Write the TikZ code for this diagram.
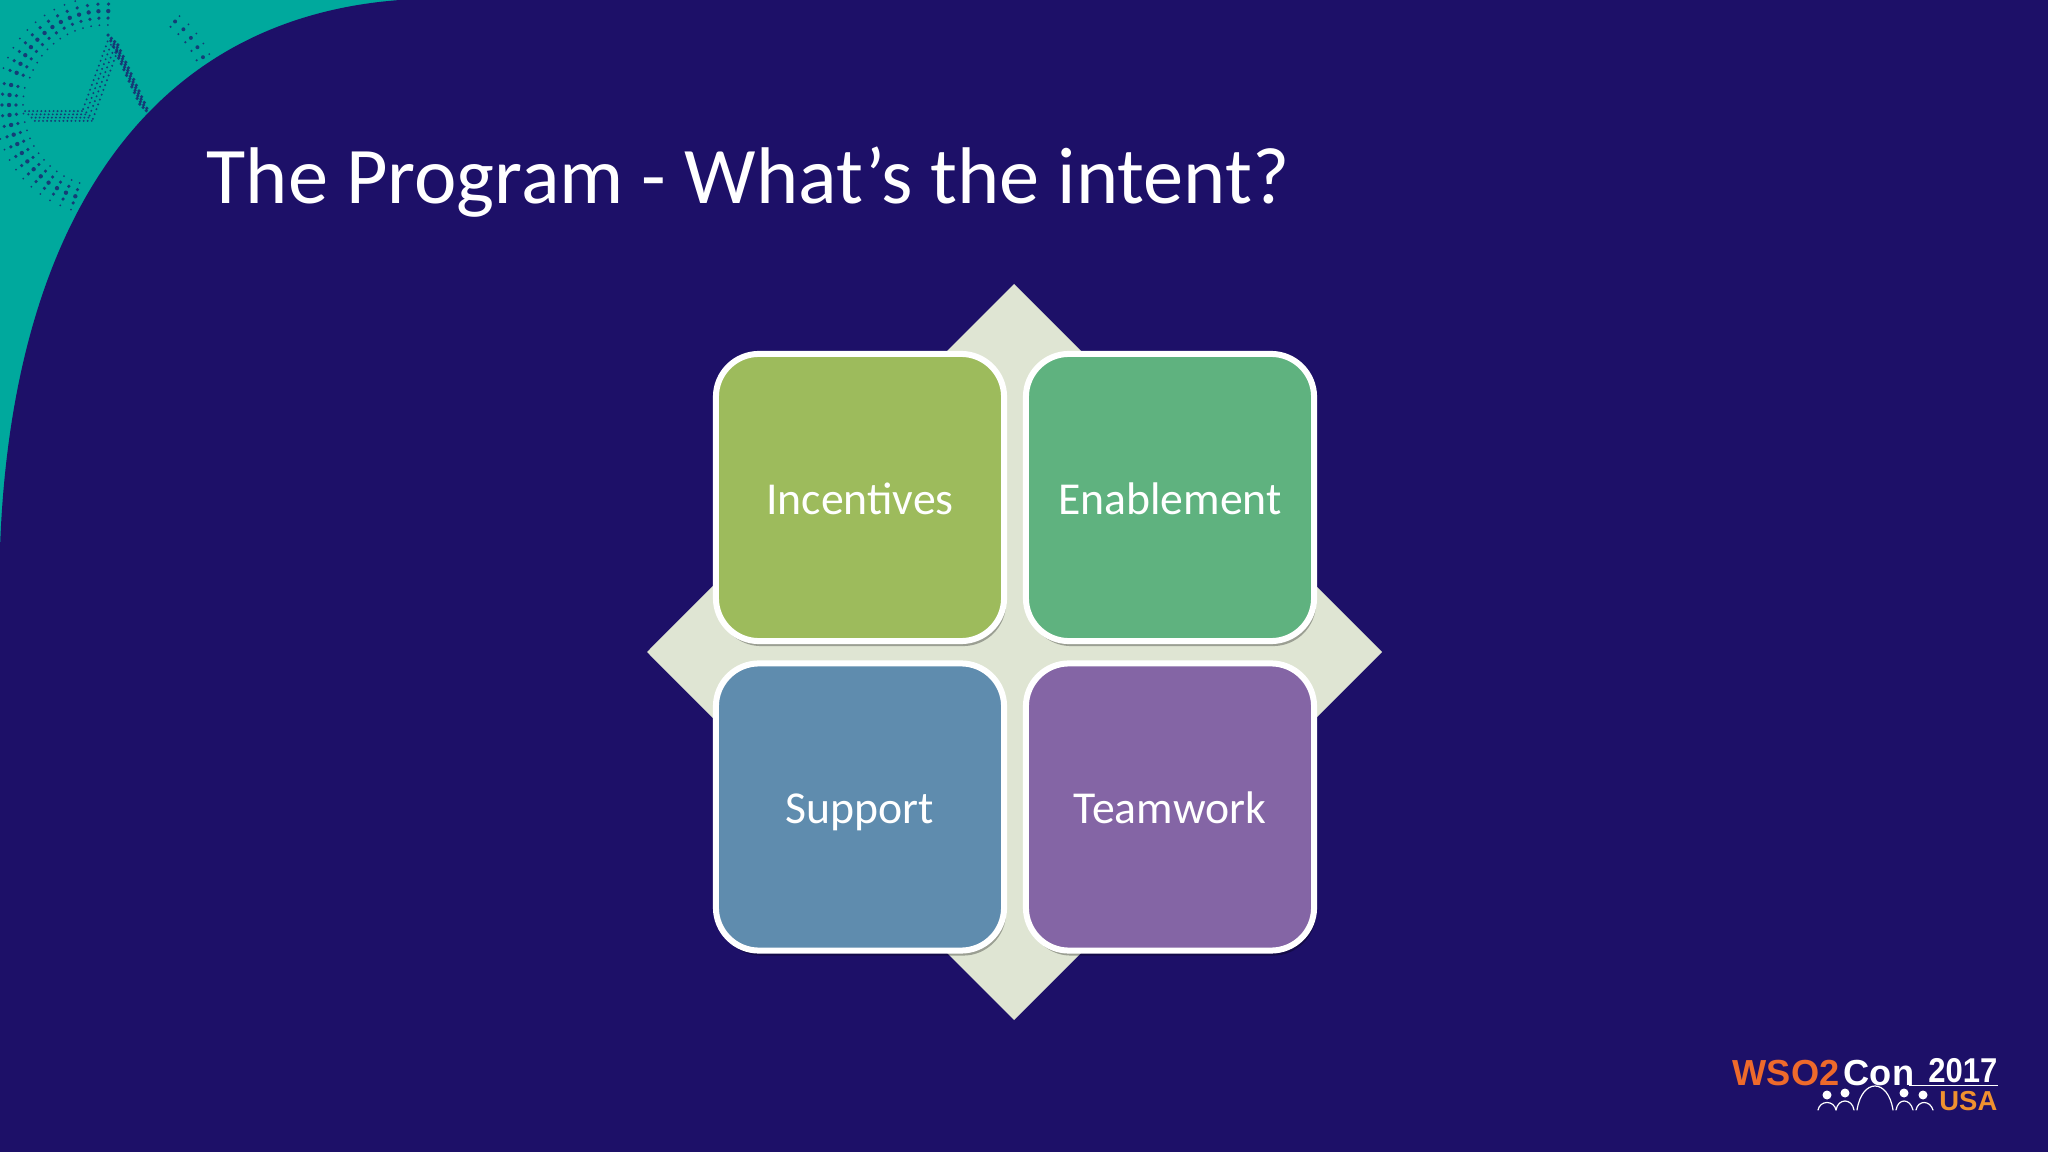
\documentclass[tikz,border=0pt]{standalone}
\usepackage{fontspec}
\setmainfont{Carlito}
\newfontfamily\logofont{Liberation Sans}
\usetikzlibrary{calc,positioning,shadows}
\definecolor{navybg}{HTML}{1D1068}
\definecolor{tealbg}{HTML}{00A99D}
\definecolor{diamondbg}{HTML}{DFE5D3}
\definecolor{greenbox}{HTML}{9DBB5C}
\definecolor{mintbox}{HTML}{5FB27F}
\definecolor{bluebox}{HTML}{5F8CAE}
\definecolor{purplebox}{HTML}{8465A5}
\definecolor{logoorange}{HTML}{EE6A2B}
\definecolor{logoamber}{HTML}{F0922F}
\def\ringdots(#1:#2:#3:#4){\foreach \a in {#1,#2,...,#3} \foreach \r/\s in {#4} \fill[navybg,opacity=0.7] ({105+\r*cos(\a)},{105-\r*sin(\a)}) circle (\s);}
\def\banddots(#1)(#2)[#3:#4]{\foreach \t in {0,#4,...,1} \foreach \o in {-7,-2.3,2.3,7} \fill[navybg,opacity=0.7] ($(#1)!\t!(#2)+(\o*0.7,\o*0.7)$) circle (#3);}
\tikzset{
	tilebox/.style={draw=white, line width=0.06cm, rounded corners=0.43cm, minimum width=2.88cm, minimum height=2.87cm, text=white, font=\fontsize{13pt}{16pt}\selectfont, text height=0.43cm, text depth=0.1cm, inner sep=0, drop shadow={shadow xshift=0.02cm, shadow yshift=-0.05cm, opacity=0.3, fill=black}},
	person/.style={draw=white, line width=0.012cm, line cap=round}
}
\begin{document}
\begin{tikzpicture}[x=0.01cm, y=-0.01cm]
		%%%%% BACKGROUND %%%%%
		\useasboundingbox (0, 0) rectangle (2048, 1152);
		\fill[tealbg] (0, 0) rectangle (420, 560);
		\ringdots(88:94:160:{80/1.0, 87/1.8, 94/2.2, 101/1.8, 108/1.0})
		\ringdots(168:174:255:{82/1.0, 89/1.8, 96/2.2, 103/1.8, 110/1.0})
		\ringdots(26:32:52:{102/1.2, 109/2.0, 116/1.0})
		\banddots(30, 116)(88, 116)[1.1:0.07]
		\banddots(88, 114)(113, 45)[1.1:0.07]
		\banddots(113, 40)(146, 112)[1.8:0.08]
		\fill[navybg] (400, 0) -- (2048, 0) -- (2048, 1152) -- (0, 1152) -- (0, 549) .. controls (10, 250) and (130, 20) .. (400, 0) -- cycle;
		
		%%%%% TITLE %%%%%
		\node[anchor=base west, text=white, inner sep=0, font=\fontsize{22.85pt}{28pt}\selectfont] (title) at (206, 204) {The Program - What’s the intent?};
		
		%%%%% DIAMOND AND TILES %%%%%
		\fill[diamondbg] (1014, 284) -- (1382, 652) -- (1014, 1020) -- (647, 652) -- cycle;
		
		\node[tilebox, fill=greenbox] (incentives) at (860, 497.5) {Incentives};
		\node[tilebox, fill=mintbox] (enablement) at (1170, 497.5) {Enablement};
		\node[tilebox, fill=bluebox] (support) at (860, 807) {Support};
		\node[tilebox, fill=purplebox] (teamwork) at (1170, 807) {Teamwork};
		
		%%%%% LOGO %%%%%
		\node[anchor=base west, inner sep=0, text=logoorange, font=\logofont\bfseries\fontsize{10.3pt}{12pt}\selectfont] (wso) at (1732, 1085) {WSO2};
		\node[anchor=base west, inner sep=0, text=white, font=\logofont\bfseries\fontsize{10.3pt}{12pt}\selectfont] (con) at (1843, 1085) {Con};
		\node[anchor=base east, inner sep=0, text=white, font=\logofont\bfseries\fontsize{9.8pt}{12pt}\selectfont] (year) at (1998, 1082) {\scalebox{0.9}[1]{2017}};
		\node[anchor=base east, inner sep=0, text=logoamber, font=\logofont\bfseries\fontsize{7.8pt}{10pt}\selectfont] (usa) at (1998, 1110) {USA};
		\draw[white, line width=0.008cm] (1909, 1085) -- (1998, 1085);
		
		\fill[white] (1827, 1095) circle (4.5);
		\fill[white] (1845, 1093) circle (4.5);
		\fill[white] (1904, 1093) circle (4.5);
		\fill[white] (1923, 1095) circle (4.5);
		\draw[person] (1818, 1110) .. controls (1820, 1100) and (1834, 1100) .. (1836, 1110);
		\draw[person] (1836, 1110) .. controls (1838, 1098) and (1852, 1098) .. (1854, 1110);
		\draw[person] (1857, 1110) .. controls (1862, 1078) and (1888, 1078) .. (1893, 1110);
		\draw[person] (1896, 1110) .. controls (1898, 1098) and (1910, 1098) .. (1913, 1110);
		\draw[person] (1916, 1110) .. controls (1918, 1100) and (1930, 1100) .. (1933, 1110);
	\end{tikzpicture}
\end{document}
